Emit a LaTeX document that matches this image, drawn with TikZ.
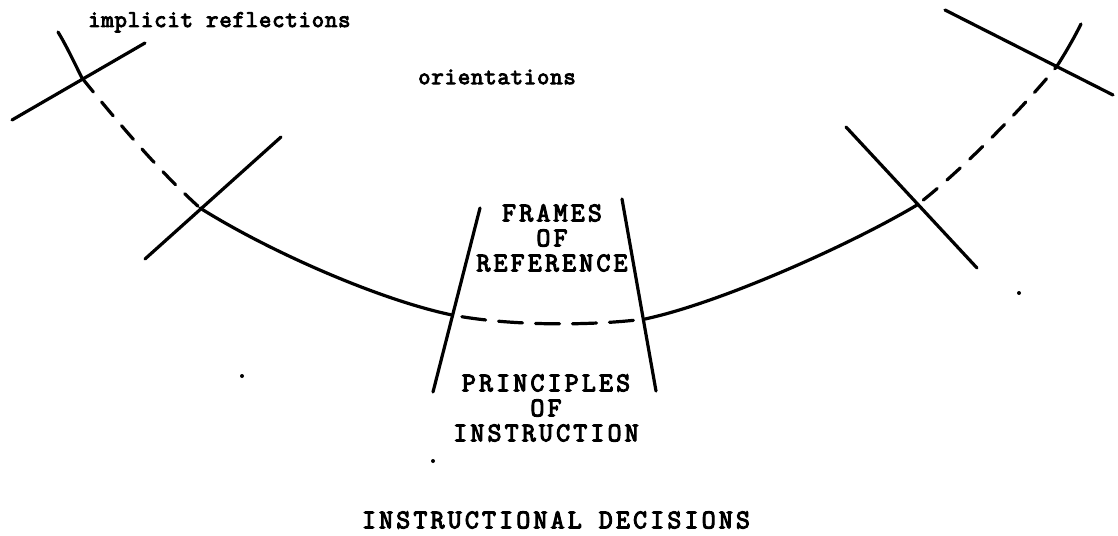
\documentclass[tikz,border=0pt]{standalone}
\usepackage{fontspec}
\newfontfamily\twup[FakeBold=4,LetterSpace=12]{Latin Modern Mono}
\newfontfamily\twlo[FakeBold=4,LetterSpace=3.5]{Latin Modern Mono}
\begin{document}
\begin{tikzpicture}[x=1pt,y=-1pt,
  ln/.style={line width=3.2pt,line cap=round,line join=round},
  dsh/.style={ln,dash pattern=on 18pt off 13pt},
  lblup/.style={font=\twup\fontsize{27}{25}\selectfont,inner sep=0pt,align=center},
  lbllo/.style={font=\twlo\fontsize{24}{26}\selectfont,inner sep=0pt,align=center},
  dotmark/.style={circle,fill=black,inner sep=0pt,minimum size=4pt}]
\useasboundingbox (0,0) rectangle (1118,535);
% crossing points on the arc
\coordinate (a0) at (58,32);
\coordinate (x1) at (82,78);
\coordinate (x2) at (200,208);
\coordinate (x3) at (452,315);
\coordinate (x4) at (645,319);
\coordinate (x5) at (917,205);
\coordinate (x6) at (1057,66);
\coordinate (a7) at (1081,24);
% arc
\draw[ln] (a0) .. controls (66,45) and (74,62) .. (x1);
\draw[dsh] (x1) .. controls (120,125) and (160,172) .. (x2);
\draw[ln] (x2) .. controls (270,252) and (380,300) .. (x3);
\draw[ln,dash pattern=on 24pt off 13pt,dash phase=-10pt] (x3) .. controls (510,326) and (590,326) .. (x4);
\draw[ln] (x4) .. controls (720,303) and (850,245) .. (x5);
\draw[dsh,dash phase=-8pt] (x5) .. controls (965,168) and (1030,100) .. (x6);
\draw[ln] (x6) .. controls (1066,52) and (1074,38) .. (a7);
% cross lines
\coordinate (l1a) at (12,120); \coordinate (l1b) at (145,43);
\coordinate (l2a) at (145,259); \coordinate (l2b) at (281,137);
\coordinate (t1a) at (433,392); \coordinate (t1b) at (480,208);
\coordinate (t2a) at (622,199); \coordinate (t2b) at (656,391);
\coordinate (r2a) at (846,127); \coordinate (r2b) at (977,268);
\coordinate (r1a) at (945,10); \coordinate (r1b) at (1113,95);
\draw[ln] (l1a) -- (l1b);
\draw[ln] (l2a) -- (l2b);
\draw[ln] (t1a) -- (t1b);
\draw[ln] (t2a) -- (t2b);
\draw[ln] (r2a) -- (r2b);
\draw[ln] (r1a) -- (r1b);
% labels
\node[lbllo,anchor=base west] (impl) at (88,27) {implicit reflections};
\node[lbllo] (orient) at (497,77) {orientations};
\node[lblup] (frames) at (552,238) {FRAMES\\OF\\REFERENCE};
\node[lblup] (princ) at (546,408) {PRINCIPLES\\OF\\INSTRUCTION};
\node[lblup] (decis) at (556,520) {INSTRUCTIONAL DECISIONS};
% stray dots
\node[dotmark] (d1) at (1019,293) {};
\node[dotmark] (d2) at (242,376) {};
\node[dotmark] (d3) at (433,461) {};
\end{tikzpicture}
\end{document}
